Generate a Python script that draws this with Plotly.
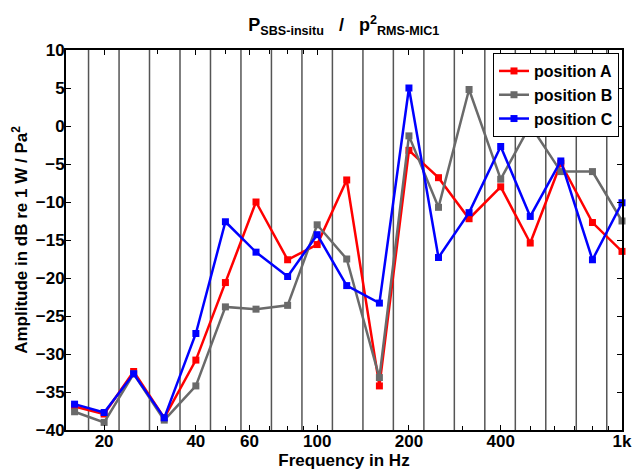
import plotly.graph_objects as go

freqs = [16, 20, 25, 31.5, 40, 50, 63, 80, 100, 125, 160, 200, 250, 315, 400, 500, 630, 800, 1000]
pos_a = [-36.9, -37.9, -32.3, -38.4, -30.8, -20.6, -10.0, -17.6, -15.6, -7.1, -34.2, -3.2, -6.8, -12.2, -8.0, -15.4, -4.9, -12.7, -16.5]
pos_b = [-37.6, -39.0, -32.6, -38.7, -34.2, -23.8, -24.1, -23.6, -13.0, -17.5, -33.1, -1.3, -10.7, 4.8, -7.0, 0.1, -6.0, -6.0, -12.5]
pos_c = [-36.6, -37.7, -32.6, -38.4, -27.3, -12.6, -16.6, -19.8, -14.3, -21.0, -23.3, 5.0, -17.3, -11.4, -2.7, -11.9, -4.6, -17.6, -10.1]
band_edges = [17.78, 22.39, 28.18, 35.48, 44.67, 56.23, 70.79, 89.13, 112.2, 141.3,
              177.8, 223.9, 281.8, 354.8, 446.7, 562.3, 707.9, 891.3]
x_tickvals = [20, 40, 60, 100, 200, 400, 1000]
x_ticktext = ["20", "40", "60", "100", "200", "400", "1k"]
x_minor = [20, 30, 40, 50, 60, 70, 80, 90, 100, 200, 300, 400, 500, 600, 700, 800, 900]
y_tickvals = [-40, -35, -30, -25, -20, -15, -10, -5, 0, 5, 10]

series = [("position A", pos_a, "#ff0000"),
          ("position B", pos_b, "#6a6a6a"),
          ("position C", pos_c, "#0000ff")]

fig = go.Figure()
for name, vals, col in series:
    fig.add_trace(go.Scatter(
        x=freqs, y=vals, name=name, mode="lines+markers",
        line=dict(color=col, width=2.5),
        marker=dict(symbol="square", size=7, color=col),
        cliponaxis=False,
    ))

for e in band_edges:
    fig.add_shape(type="line", xref="x", yref="paper", x0=e, x1=e, y0=0, y1=1,
                  line=dict(color="#555555", width=1.5), layer="below")

font_family = "Liberation Sans, Arial, sans-serif"
fig.update_layout(
    width=636, height=464,
    margin=dict(l=58, r=22, t=42, b=42, autoexpand=False),
    paper_bgcolor="white", plot_bgcolor="white",
    font=dict(family=font_family, size=16, color="black"),
    title=dict(
        text="<b>P<sub>SBS-insitu</sub>   /   p<sup>2</sup><sub>RMS-MIC1</sub></b>",
        x=0.528, xanchor="center", y=0.963, yanchor="middle",
        font=dict(size=18, family=font_family, color="black"),
    ),
    showlegend=True,
    legend=dict(
        x=0.9946, xanchor="right", y=0.992, yanchor="top",
        bgcolor="white", bordercolor="black", borderwidth=1,
        font=dict(size=16, family=font_family, color="black", weight="bold"),
        tracegroupgap=0, itemwidth=30,
    ),
)

fig.update_xaxes(
    type="log", range=[1.176, 3.0], automargin=False,
    tickvals=x_tickvals, ticktext=x_ticktext, ticklabelstandoff=-5,
    ticks="inside", ticklen=5, tickwidth=1, tickcolor="black",
    minor=dict(tickvals=x_minor, ticks="inside", ticklen=4, tickcolor="black", showgrid=False),
    showgrid=False, zeroline=False,
    showline=True, linecolor="black", linewidth=2, mirror="allticks",
    tickfont=dict(size=17, family=font_family, color="black", weight="bold"),
    title=dict(text="<b>Frequency in Hz</b>", standoff=4,
               font=dict(size=17, family=font_family, color="black")),
)
fig.update_yaxes(
    range=[-40, 10], tickvals=y_tickvals, automargin=False, ticklabelstandoff=-4,
    ticks="inside", ticklen=5, tickwidth=1, tickcolor="black",
    showgrid=False, zeroline=False,
    showline=True, linecolor="black", linewidth=2, mirror="allticks",
    tickfont=dict(size=17, family=font_family, color="black", weight="bold"),
    title=dict(text="<b>Amplitude in dB re 1 W / Pa<sup>2</sup></b>", standoff=4,
               font=dict(size=17, family=font_family, color="black")),
)

fig.write_html("out.html")
